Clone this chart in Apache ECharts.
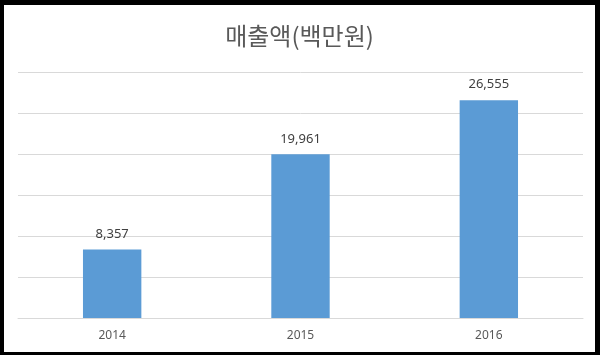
<!DOCTYPE html>
<html>
<head>
<meta charset="utf-8">
<script src="https://cdn.jsdelivr.net/npm/echarts@6/dist/echarts.min.js"></script>
<style>
  html, body { margin: 0; padding: 0; background: #000; }
  #main { position: absolute; left: 4px; top: 5px; width: 591px; height: 347px; background: #fff; }
</style>
</head>
<body>
<div id="main"></div>
<script>
// 매출액 데이터
const years = ['2014', '2015', '2016']
const sales = [8357, 19961, 26555]
const yMax = 30000
const yStep = 5000

const myChart = echarts.init(document.getElementById('main'))

const option = {
  backgroundColor: '#fff',
  animation: false,
  title: {
    text: '매출액(백만원)',
    left: 'center',
    top: 14,
    textStyle: {
      fontFamily: 'Noto Sans CJK KR',
      fontSize: 24,
      fontWeight: 'normal',
      color: '#595959'
    }
  },
  grid: {
    left: 14,
    right: 12,
    top: 67,
    bottom: 34
  },
  xAxis: {
    type: 'category',
    data: years,
    axisLine: { lineStyle: { color: '#d9d9d9', width: 1 } },
    axisTick: { show: false },
    axisLabel: {
      color: '#595959',
      fontSize: 12,
      margin: 12,
      fontFamily: 'Noto Sans'
    }
  },
  yAxis: {
    type: 'value',
    min: 0,
    max: yMax,
    interval: yStep,
    axisLabel: { show: false },
    axisLine: { show: false },
    axisTick: { show: false },
    splitLine: { lineStyle: { color: '#d9d9d9', width: 1 } }
  },
  series: [
    {
      type: 'bar',
      data: sales,
      barWidth: '31%',
      itemStyle: { color: '#5b9bd5' },
      label: {
        show: true,
        position: 'top',
        distance: 9,
        color: '#404040',
        fontSize: 13,
        fontFamily: 'Noto Sans',
        formatter: (p) => p.value.toLocaleString('en-US')
      }
    }
  ]
}

myChart.setOption(option)
</script>
</body>
</html>
